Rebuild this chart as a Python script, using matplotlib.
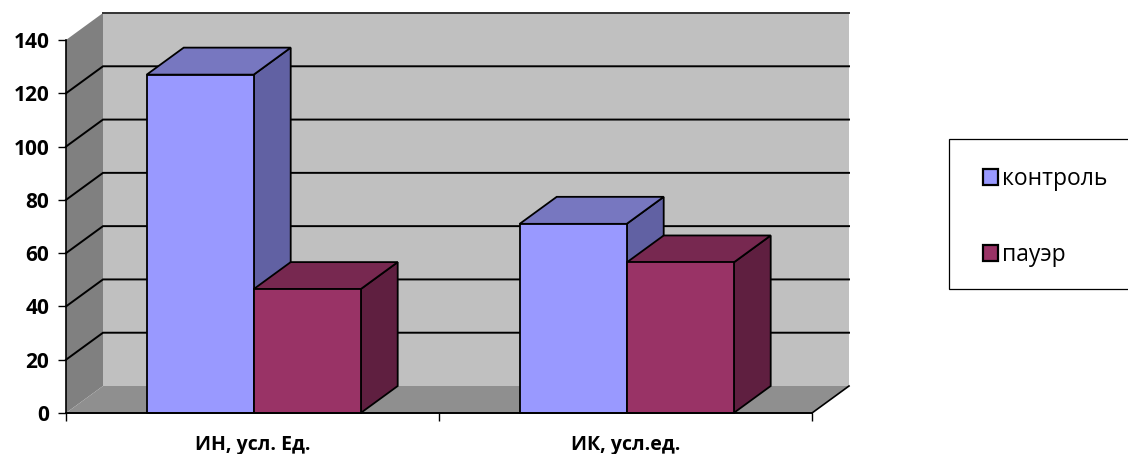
import matplotlib
matplotlib.use("Agg")
import matplotlib.pyplot as plt
from matplotlib.patches import Polygon, Patch, Rectangle

categories = ["ИН, усл. Ед.", "ИК, усл.ед."]
series_names = ["контроль", "пауэр"]
control_values = [127, 71]
power_values = [46.5, 56.5]
y_ticks = [0, 20, 40, 60, 80, 100, 120, 140]

plt.rcParams["font.family"] = ["Open Sans", "DejaVu Sans"]

W, H = 1128, 454
fig = plt.figure(figsize=(W / 100, H / 100), dpi=100)
ax = fig.add_axes([66 / W, 1 - 413 / H, 746 / W, 373 / H])
ax.set_xlim(0, 2)
ax.set_ylim(0, 140)

# depth of the fake 3d box, in data units
dx = 37 / 373
dy = 27 / (373 / 140)
bar_w = 107 / 373
gap = 80.7 / 373


def poly(pts, face, lw=1.0, edge="black", z=2):
    ax.add_patch(Polygon(pts, closed=True, facecolor=face, edgecolor=edge, lw=lw, zorder=z, clip_on=False))


def box(x0, h, cols, z):
    x1 = x0 + bar_w
    poly([(x1, 0), (x1 + dx, dy), (x1 + dx, h + dy), (x1, h)], cols[2], lw=1.3, z=z)
    poly([(x0, h), (x0 + dx, h + dy), (x1 + dx, h + dy), (x1, h)], cols[1], lw=1.3, z=z)
    poly([(x0, 0), (x1, 0), (x1, h), (x0, h)], cols[0], lw=1.3, z=z)


# walls and floor
poly([(dx, dy), (2 + dx, dy), (2 + dx, 140 + dy), (dx, 140 + dy)], "#c0c0c0", lw=0, edge="none", z=1)
poly([(0, 0), (dx, dy), (dx, 140 + dy), (0, 140)], "#808080", lw=0, edge="none", z=1)
poly([(0, 0), (2, 0), (2 + dx, dy), (dx, dy)], "#8f8f8f", lw=0, edge="none", z=1)

# gridlines run along the side wall and the back wall; none on the floor
for t in y_ticks[1:-1]:
    ax.plot([0, dx, 2 + dx], [t, t + dy, t + dy], color="black", lw=1.4, zorder=1.5, clip_on=False, solid_joinstyle="miter")
ax.plot([dx, 2 + dx], [140 + dy, 140 + dy], color="#333333", lw=1.4, zorder=1.5, clip_on=False)
ax.plot([2, 2 + dx], [0, dy], color="black", lw=1.2, zorder=1.5, clip_on=False)

blue = ("#9999ff", "#7777c0", "#6161a3")
wine = ("#993366", "#772850", "#5f1f40")
for i in range(len(categories)):
    box(i + gap, control_values[i], blue, 3)
    box(i + gap + bar_w, power_values[i], wine, 4)

for s in ["top", "right"]:
    ax.spines[s].set_visible(False)
ax.spines["left"].set_linewidth(1.2)
ax.spines["bottom"].set_linewidth(1.4)
ax.spines["left"].set_zorder(2)
ax.spines["bottom"].set_zorder(5)
ax.set_yticks(y_ticks)
ax.set_xticks([0, 1, 2])
ax.set_xticklabels([])
ax.set_xticks([0.5, 1.5], labels=categories, minor=True)
ax.tick_params(axis="x", which="minor", length=0, pad=16, labelsize=14)
ax.tick_params(axis="x", which="major", length=6, width=1)
ax.tick_params(axis="y", length=6, width=1, labelsize=15, pad=6)
for lab in ax.get_yticklabels() + ax.get_xticklabels(minor=True):
    lab.set_fontweight("bold")

# legend frame runs off the right side of the figure
fig.add_artist(Rectangle((949 / W, 1 - 289 / H), 200 / W, 150 / H, transform=fig.transFigure,
                         facecolor="white", edgecolor="black", lw=0.9))
handles = [Patch(facecolor=blue[0], edgecolor="black", lw=1.6), Patch(facecolor=wine[0], edgecolor="black", lw=1.6)]
fig.legend(handles, series_names, loc="upper left", bbox_to_anchor=(983 / W, 1 - 167 / H), bbox_transform=fig.transFigure,
           fontsize=16.5, frameon=False, labelspacing=2.275, handlelength=0.65, handleheight=0.65,
           handletextpad=0.2, borderpad=0, borderaxespad=0, labelcolor="black")

fig.savefig("out.png", dpi=100)
